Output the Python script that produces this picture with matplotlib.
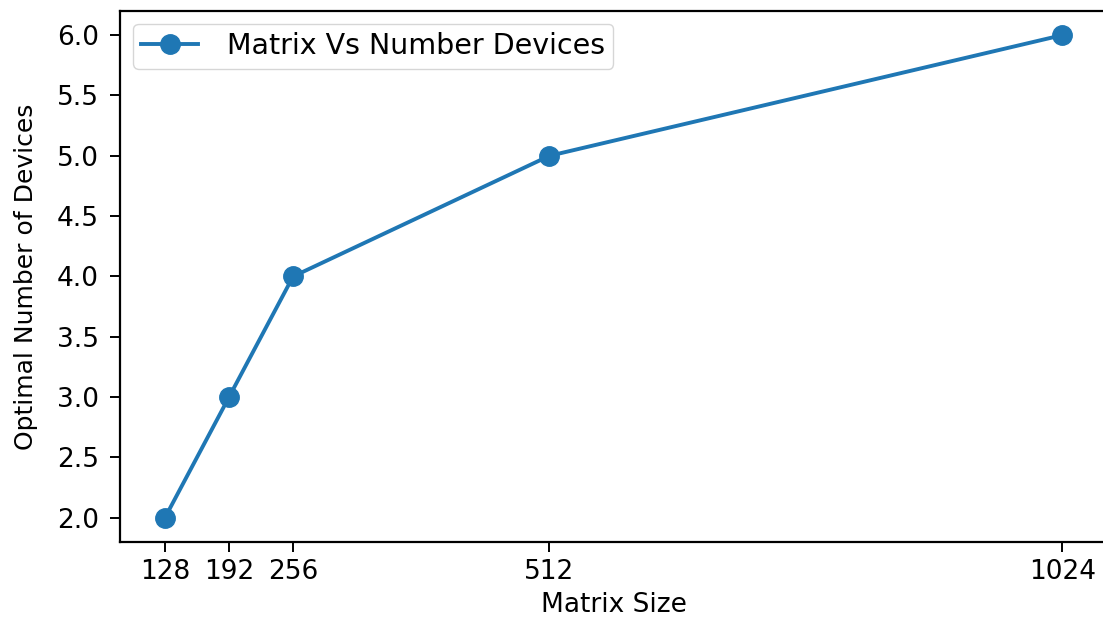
import matplotlib
matplotlib.use('Agg')
import matplotlib.pyplot as plt

plt.rcParams['font.family'] = ['DejaVu Sans']

matrix_size = [128, 192, 256, 512, 1024]
optimal_devices = [2, 3, 4, 5, 6]

fig = plt.figure(figsize=(11.03, 6.17), dpi=100)
ax = fig.add_axes([0.1088, 0.1216, 0.895, 0.8606])

ax.plot(matrix_size, optimal_devices, marker='o', color='#1f77b4',
        linewidth=2.8, markersize=14, label='Matrix Vs Number Devices')

ax.set_xticks(matrix_size)
ax.tick_params(axis='both', labelsize=19, length=7, width=1.4)
ax.tick_params(axis='x', pad=5)
ax.tick_params(axis='y', pad=8)
for s in ax.spines.values():
    s.set_linewidth(1.6)
ax.set_xlabel('Matrix Size', fontsize=19, labelpad=5)
ax.set_ylabel('Optimal Number of Devices', fontsize=18, labelpad=14)
ax.legend(loc='upper left', fontsize=20.5, handlelength=2.0, borderpad=0.3,
          handletextpad=1.0, borderaxespad=0.45)

fig.savefig('out.png', dpi=100)
